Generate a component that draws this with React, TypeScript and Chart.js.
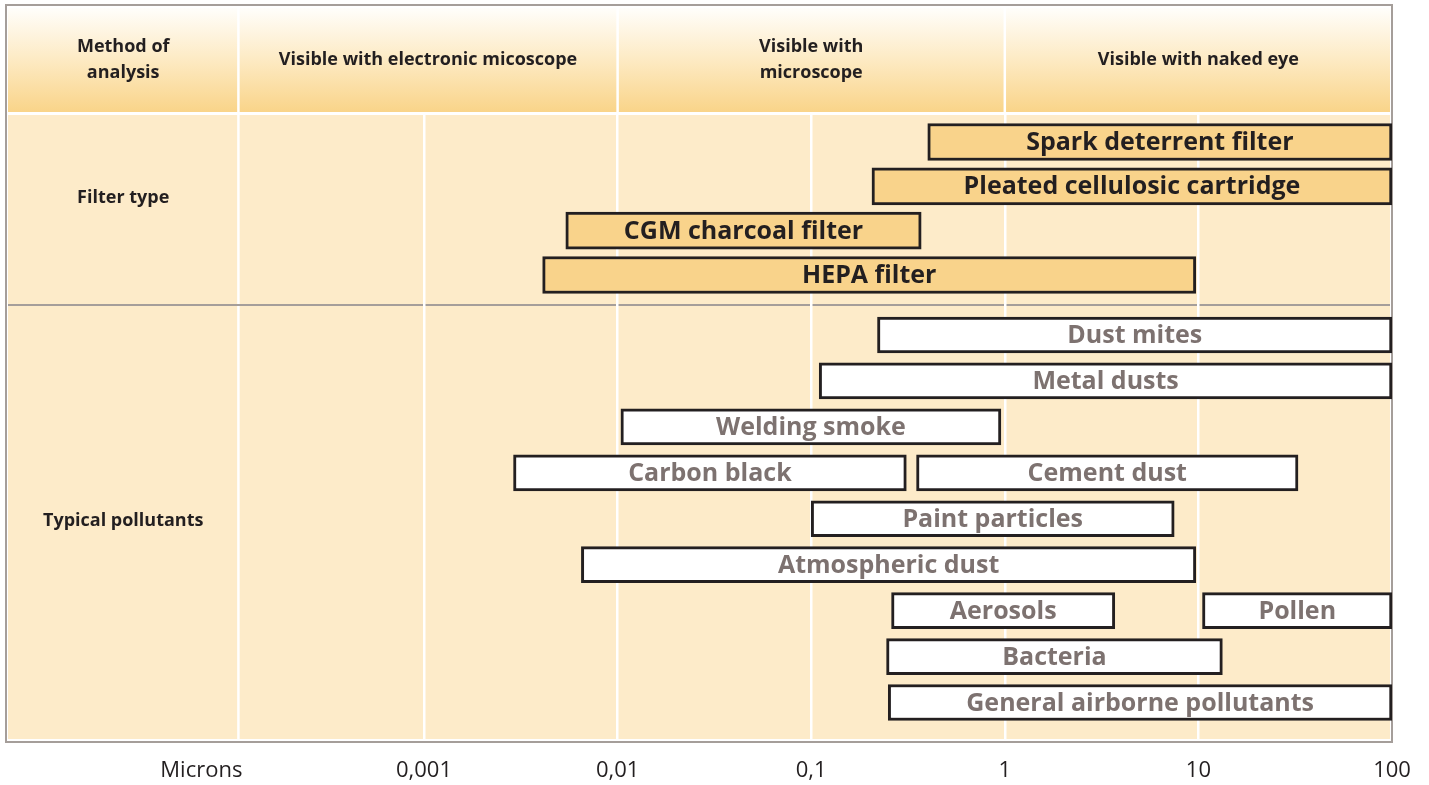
import React, { useEffect, useRef } from 'react';
import { Chart, registerables } from 'chart.js';

Chart.register(...registerables);

// ---------------- data ----------------
const filterNames = ['Spark deterrent filter', 'Pleated cellulosic cartridge', 'CGM charcoal filter', 'HEPA filter'];
const filterRow = [0, 1, 2, 3];
const filterMin = [0.4, 0.206, 0.0054, 0.0041];
const filterMax = [100, 100, 0.37, 9.7];

const pollutantNames = [
  'Dust mites',
  'Metal dusts',
  'Welding smoke',
  'Carbon black',
  'Cement dust',
  'Paint particles',
  'Atmospheric dust',
  'Aerosols',
  'Pollen',
  'Bacteria',
  'General airborne pollutants',
];
const pollutantRow = [0, 1, 2, 3, 3, 4, 5, 6, 6, 7, 8];
const pollutantMin = [0.22, 0.11, 0.0104, 0.0029, 0.35, 0.1, 0.0065, 0.26, 10.5, 0.245, 0.25];
const pollutantMax = [100, 100, 0.955, 0.31, 32.7, 7.5, 9.7, 3.7, 100, 13.3, 100];

const tickValues = [0.001, 0.01, 0.1, 1, 10, 100];
const axisTitle = 'Microns';
const headerTitles = ['Method of\nanalysis', 'Visible with electronic micoscope', 'Visible with\nmicroscope', 'Visible with naked eye'];
const sectionTitles = ['Filter type', 'Typical pollutants'];

const X_MIN = 7.1e-6;
const X_MAX = 100;
const labelColumnEdge = 1.1e-4;
const headerEdges = [X_MIN, labelColumnEdge, 0.01, 1, X_MAX];

// ---------------- styles ----------------
const FONT = '"Open Sans", "Noto Sans", sans-serif';
const DARK = '#231f20';
const GREY_TEXT = '#7d7270';
const BODY_BG = '#fdebc9';
const FILTER_FILL = '#f9d38b';
const FRAME = '#a59e9a';

export default function App() {
  const ref = useRef<HTMLCanvasElement | null>(null);

  useEffect(() => {
    const canvas = ref.current;
    if (!canvas) return;

    const filterData = filterNames.map((_, i) => ({ x: [filterMin[i], filterMax[i]], y: filterRow[i] }));
    const pollutantData = pollutantNames.map((_, i) => ({ x: [pollutantMin[i], pollutantMax[i]], y: pollutantRow[i] }));

    const line = (ctx: CanvasRenderingContext2D, x1: number, y1: number, x2: number, y2: number) => {
      ctx.beginPath();
      ctx.moveTo(x1, y1);
      ctx.lineTo(x2, y2);
      ctx.stroke();
    };

    const decor = {
      id: 'decor',
      beforeDraw(chart: any) {
        const { ctx, chartArea: ca, scales } = chart;
        const xs = scales.x;
        const yF = scales.yF;
        const yP = scales.yP;
        ctx.save();
        ctx.fillStyle = '#ffffff';
        ctx.fillRect(0, 0, chart.width, chart.height);
        const left = ca.left;
        const right = ca.right - 2;
        const hTop = 8;
        const hBot = ca.top - 2;
        const g = ctx.createLinearGradient(0, hTop, 0, hBot);
        g.addColorStop(0, '#fffefb');
        g.addColorStop(0.5, '#fdeac3');
        g.addColorStop(1, '#f9d489');
        ctx.fillStyle = g;
        ctx.fillRect(left, hTop, right - left, hBot - hTop);
        ctx.fillStyle = BODY_BG;
        ctx.fillRect(left, ca.top + 1, right - left, ca.bottom - 2 - (ca.top + 1));

        ctx.strokeStyle = '#ffffff';
        ctx.lineWidth = 2.5;
        headerEdges.slice(1, -1).forEach((v) => {
          const px = xs.getPixelForValue(v);
          line(ctx, px, hTop, px, hBot + 2);
        });
        const sep = xs.getPixelForValue(labelColumnEdge);
        line(ctx, sep, ca.top, sep, ca.bottom - 2);

        const sy = (yF.getPixelForValue(filterRow[filterRow.length - 1]) + yP.getPixelForValue(0)) / 2;
        ctx.strokeStyle = FRAME;
        ctx.lineWidth = 2;
        line(ctx, left, sy, right, sy);
        ctx.restore();
      },
      beforeDatasetsDraw(chart: any) {
        const { ctx, chartArea: ca, scales } = chart;
        const xs = scales.x;
        const yF = scales.yF;
        const yP = scales.yP;
        ctx.save();
        // frame
        ctx.strokeStyle = FRAME;
        ctx.lineWidth = 2;
        ctx.strokeRect(6, 5, ca.right - 6, ca.bottom + 1 - 5);

        // header texts
        ctx.fillStyle = DARK;
        ctx.font = `bold 18px ${FONT}`;
        ctx.textAlign = 'center';
        ctx.textBaseline = 'middle';
        const hMid = (8 + ca.top - 2) / 2;
        headerTitles.forEach((t, i) => {
          const x0 = xs.getPixelForValue(headerEdges[i]);
          const x1 = xs.getPixelForValue(headerEdges[i + 1]);
          const cx = (x0 + x1) / 2;
          const lines = t.split('\n');
          const lh = 26;
          lines.forEach((ln, k) => {
            ctx.fillText(ln, cx, hMid + (k - (lines.length - 1) / 2) * lh);
          });
        });

        // section titles
        const colMid = (ca.left + xs.getPixelForValue(labelColumnEdge)) / 2;
        ctx.fillText(sectionTitles[0], colMid, yF.getPixelForValue(1.25));
        ctx.fillText(sectionTitles[1], colMid, yP.getPixelForValue(4.05));

        // axis title
        ctx.font = `22px ${FONT}`;
        ctx.textAlign = 'right';
        const tickY = xs.top + 17 + 13;
        ctx.fillText(axisTitle, xs.getPixelForValue(labelColumnEdge) + 4, tickY);
        ctx.restore();
      },
      afterDatasetsDraw(chart: any) {
        const { ctx } = chart;
        ctx.save();
        ctx.font = `bold 25px ${FONT}`;
        ctx.textAlign = 'center';
        ctx.textBaseline = 'middle';
        const sets = [
          { names: filterNames, color: DARK },
          { names: pollutantNames, color: GREY_TEXT },
        ];
        sets.forEach((s, di) => {
          const meta = chart.getDatasetMeta(di);
          ctx.fillStyle = s.color;
          meta.data.forEach((el: any, i: number) => {
            const p = el.getProps(['x', 'base', 'y'], true);
            ctx.fillText(s.names[i], (p.x + p.base) / 2, p.y + 1);
          });
        });
        ctx.restore();
      },
    };

    const chart = new Chart(canvas, {
      type: 'bar',
      data: {
        datasets: [
          {
            label: 'Filter type',
            data: filterData as any,
            xAxisID: 'x',
            yAxisID: 'yF',
            backgroundColor: FILTER_FILL,
            borderColor: DARK,
            borderWidth: 3,
            borderSkipped: false,
            barThickness: 37,
            grouped: false,
          },
          {
            label: 'Typical pollutants',
            data: pollutantData as any,
            xAxisID: 'x',
            yAxisID: 'yP',
            backgroundColor: '#ffffff',
            borderColor: DARK,
            borderWidth: 3,
            borderSkipped: false,
            barThickness: 36,
            grouped: false,
          },
        ],
      },
      options: {
        responsive: false,
        animation: false,
        indexAxis: 'y',
        layout: { padding: { left: 8, right: 37, top: 114, bottom: 0 } },
        plugins: { legend: { display: false }, tooltip: { enabled: false } },
        scales: {
          x: {
            type: 'logarithmic',
            position: 'bottom',
            min: X_MIN,
            max: X_MAX,
            bounds: 'data',
            stacked: false,
            afterBuildTicks: (s: any) => {
              s.ticks = tickValues.map((v) => ({ value: v }));
            },
            afterFit: (s: any) => {
              s.height = 44;
            },
            grid: {
              color: (c: any) => (c.tick && c.tick.value === X_MAX ? 'rgba(0,0,0,0)' : '#ffffff'),
              lineWidth: 2.5,
              drawTicks: false,
            },
            border: { display: false },
            ticks: {
              autoSkip: false,
              maxRotation: 0,
              padding: 17,
              color: DARK,
              font: { family: FONT, size: 22 },
              callback: (v: any) => String(v).replace('.', ','),
            },
          },
          yF: {
            type: 'linear',
            axis: 'y',
            position: 'left',
            reverse: true,
            offset: false,
            bounds: 'data',
            min: -0.6316,
            max: 13.512,
            display: false,
          },
          yP: {
            type: 'linear',
            axis: 'y',
            position: 'left',
            reverse: true,
            offset: false,
            bounds: 'data',
            min: -4.8106,
            max: 8.838,
            display: false,
          },
        },
      } as any,
      plugins: [decor],
    });

    return () => chart.destroy();
  }, []);

  return (
    <div style={{ position: 'absolute', left: 0, top: 0, width: 1429, height: 785 }}>
      <canvas ref={ref} width={1429} height={785} style={{ display: 'block', width: 1429, height: 785 }} />
    </div>
  );
}
